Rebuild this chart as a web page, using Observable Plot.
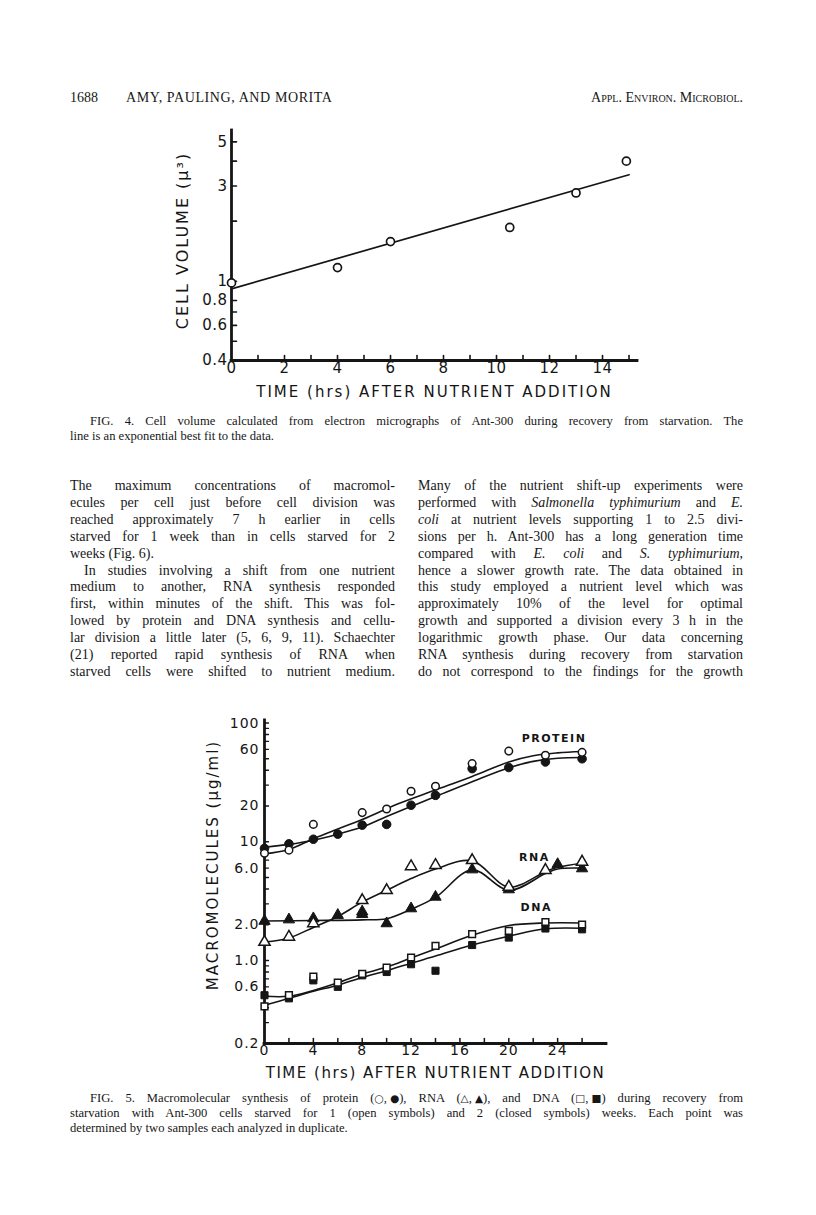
<!DOCTYPE html>
<html><head><meta charset="utf-8">
<script src="https://cdn.jsdelivr.net/npm/d3@7"></script>
<script src="https://cdn.jsdelivr.net/npm/@observablehq/plot@0.6"></script>
<style>
html,body{margin:0;padding:0;background:#fff;}
body{width:816px;height:1215px;position:relative;overflow:hidden;font-family:"Liberation Serif","Times New Roman",serif;color:#171717;}
.abs{position:absolute;white-space:nowrap;}
.col{position:absolute;width:325px;font-size:14px;line-height:16.9px;}
.col div{text-align:justify;text-align-last:justify;text-justify:inter-word;}
.col div.end{text-align-last:left;}
.cap{position:absolute;left:70px;width:673px;font-size:12.6px;line-height:15px;}
.cap div{text-align:justify;text-align-last:justify;text-justify:inter-word;}
.cap div.end{text-align-last:left;}
.cap div.ind{padding-left:20px;}
.col div.ind{text-indent:14px;}
.grp{display:inline-block;text-align:left;}
.sym{font-family:"DejaVu Sans",sans-serif;font-size:10.5px;}
#fig4,#fig5{position:absolute;}
</style>
</head><body>
<div class="abs" style="left:70px;top:90px;font-size:14px;line-height:16px;">1688</div>
<div class="abs" style="left:126px;top:90px;font-size:14px;line-height:16px;letter-spacing:0.6px;">AMY, PAULING, AND MORITA</div>
<div class="abs" style="right:73px;top:90px;font-size:14px;line-height:16px;font-variant:small-caps;">Appl. Environ. Microbiol.</div>

<div id="fig4" style="left:140px;top:120px;"></div>

<div class="cap" style="top:414px;">
<div class="ind">FIG. 4. Cell volume calculated from electron micrographs of Ant-300 during recovery from starvation. The</div>
<div class="end">line is an exponential best fit to the data.</div>
</div>

<div class="col" style="left:70px;top:478px;">
<div>The maximum concentrations of macromol-</div>
<div>ecules per cell just before cell division was</div>
<div>reached approximately 7 h earlier in cells</div>
<div>starved for 1 week than in cells starved for 2</div>
<div class="end">weeks (Fig. 6).</div>
<div class="ind">In studies involving a shift from one nutrient</div>
<div>medium to another, RNA synthesis responded</div>
<div>first, within minutes of the shift. This was fol-</div>
<div>lowed by protein and DNA synthesis and cellu-</div>
<div>lar division a little later (5, 6, 9, 11). Schaechter</div>
<div>(21) reported rapid synthesis of RNA when</div>
<div>starved cells were shifted to nutrient medium.</div>
</div>

<div class="col" style="left:418px;top:478px;">
<div>Many of the nutrient shift-up experiments were</div>
<div>performed with <i>Salmonella typhimurium</i> and <i>E.</i></div>
<div><i>coli</i> at nutrient levels supporting 1 to 2.5 divi-</div>
<div>sions per h. Ant-300 has a long generation time</div>
<div>compared with <i>E. coli</i> and <i>S. typhimurium</i>,</div>
<div>hence a slower growth rate. The data obtained in</div>
<div>this study employed a nutrient level which was</div>
<div>approximately 10% of the level for optimal</div>
<div>growth and supported a division every 3 h in the</div>
<div>logarithmic growth phase. Our data concerning</div>
<div>RNA synthesis during recovery from starvation</div>
<div>do not correspond to the findings for the growth</div>
</div>

<div id="fig5" style="left:190px;top:710px;"></div>

<div class="cap" style="top:1091px;">
<div class="ind">FIG. 5. Macromolecular synthesis of protein <span class="grp">(<span class="sym">○</span>, <span class="sym">●</span>),</span> RNA <span class="grp">(<span class="sym">△</span>, <span class="sym">▲</span>),</span> and DNA <span class="grp">(<span class="sym">□</span>, <span class="sym">■</span>)</span> during recovery from</div>
<div>starvation with Ant-300 cells starved for 1 (open symbols) and 2 (closed symbols) weeks. Each point was</div>
<div class="end">determined by two samples each analyzed in duplicate.</div>
</div>

<script>
// ---------- Figure 4 data ----------
const volHours = [0, 4, 6, 10.5, 13, 14.9];
const volMicron3 = [0.98, 1.17, 1.58, 1.86, 2.77, 4.0];
const volFitHours = [0, 15];
const volFitMicron3 = [0.915, 3.42];
const volXTickLabels = [0, 2, 4, 6, 8, 10, 12, 14];
const volXTickMarks = [1, 2, 3, 4, 5, 6, 7, 8, 9, 10, 11, 12, 13, 14, 15];
const volYTickLabels = [0.4, 0.6, 0.8, 1, 3, 5];
const volYTickText = ["0.4", "0.6", "0.8", "1", "3", "5"];
const volYTickMarks = [0.5, 0.6, 0.7, 0.8, 1, 2, 3, 4, 5];

// ---------- Figure 5 data (measured points) ----------
const proteinOpenHours = [0, 2, 4, 8, 10, 12, 14, 17, 20, 23, 26];
const proteinOpenUgMl = [8.0, 8.5, 14.0, 17.6, 18.9, 26.6, 29.3, 45.5, 58.0, 53.5, 56.6];
const proteinClosedHours = [0, 2, 4, 6, 8, 10, 12, 14, 17, 20, 23, 26];
const proteinClosedUgMl = [8.8, 9.6, 10.5, 11.6, 13.8, 14.0, 20.3, 24.6, 41.3, 42.2, 47.0, 50.0];
const rnaOpenHours = [0, 2, 4, 8, 10, 12, 14, 17, 20, 23, 26];
const rnaOpenUgMl = [1.43, 1.58, 2.05, 3.21, 3.9, 6.2, 6.35, 6.98, 4.16, 5.77, 6.77];
const rnaClosedHours = [0, 2, 4, 6, 8, 8, 10, 12, 14, 17, 20, 24, 26];
const rnaClosedUgMl = [2.15, 2.21, 2.26, 2.41, 2.45, 2.58, 2.05, 2.74, 3.43, 5.83, 3.96, 6.46, 5.95];
const dnaOpenHours = [0, 2, 4, 6, 8, 10, 12, 14, 17, 20, 23, 26];
const dnaOpenUgMl = [0.41, 0.51, 0.73, 0.65, 0.77, 0.87, 1.06, 1.33, 1.67, 1.78, 2.11, 2.01];
const dnaClosedHours = [0, 2, 4, 6, 8, 10, 12, 14, 17, 20, 23, 26];
const dnaClosedUgMl = [0.51, 0.48, 0.68, 0.60, 0.75, 0.80, 0.93, 0.82, 1.35, 1.56, 1.86, 1.83];

// ---------- Figure 5 hand-drawn curves ----------
const proteinOpenCurveHours = [0, 2, 4, 6, 8, 11, 14, 17, 20, 22, 24, 26];
const proteinOpenCurveUgMl = [7.9, 8.6, 10.6, 12.8, 15.4, 21, 27.3, 35.5, 47, 53, 56, 57.5];
const proteinClosedCurveHours = [0, 2, 4, 6, 8, 10, 12, 14, 17, 20, 22, 24, 26];
const proteinClosedCurveUgMl = [9.0, 9.5, 10.3, 11.6, 13.3, 16.3, 19.8, 24, 32, 42, 47.5, 50.5, 51.2];
const rnaOpenCurveHours = [0, 2, 4, 6, 8, 10, 12, 14, 17, 20, 23, 24, 26];
const rnaOpenCurveUgMl = [1.43, 1.55, 1.9, 2.35, 3.1, 3.9, 4.9, 5.9, 6.9, 4.15, 5.6, 6.1, 6.6];
const rnaClosedCurveHours = [0, 4, 8, 10, 12, 14, 17, 20, 23, 24, 26];
const rnaClosedCurveUgMl = [2.15, 2.17, 2.2, 2.25, 2.7, 3.4, 5.8, 3.9, 5.4, 5.9, 6.0];
const dnaOpenCurveHours = [0, 2, 4, 6, 8, 10, 12, 14, 17, 20, 23, 26];
const dnaOpenCurveUgMl = [0.5, 0.5, 0.56, 0.65, 0.77, 0.88, 1.05, 1.25, 1.63, 1.97, 2.07, 2.07];
const dnaClosedCurveHours = [0, 2, 4, 6, 8, 10, 12, 14, 17, 20, 23, 26];
const dnaClosedCurveUgMl = [0.42, 0.48, 0.55, 0.62, 0.72, 0.82, 0.95, 1.09, 1.35, 1.6, 1.85, 1.87];

const seriesLabels = ["PROTEIN", "RNA", "DNA"];
const seriesLabelHours = [23.7, 22.1, 22.25];
const seriesLabelUgMl = [74, 7.4, 2.8];

const macroXTickLabels = [0, 4, 8, 12, 16, 20, 24];
const macroXTickMarks = [2, 4, 6, 8, 10, 12, 14, 16, 18, 20, 22, 24, 26];
const macroYTickLabels = [0.2, 0.6, 1, 2, 6, 10, 20, 60, 100];
const macroYTickText = ["0.2", "0.6", "1.0", "2.0", "6.0", "10", "20", "60", "100"];
const macroYTickMarks = [0.3, 0.4, 0.5, 0.6, 0.7, 0.8, 0.9, 1, 2, 3, 4, 5, 6, 7, 8, 9, 10, 20, 30, 40, 50, 60, 70, 80, 90, 100];

// ---------- helpers ----------
const zip = (xs, ys) => xs.map((x, i) => ({x, y: ys[i]}));
const ink = "#151515";
const tickUp = {draw(ctx, l) { ctx.moveTo(0, 0); ctx.lineTo(0, -l); }};
const tickRight = {draw(ctx, l) { ctx.moveTo(0, 0); ctx.lineTo(l, 0); }};
function spacing(svg, map) {
  d3.select(svg).selectAll("text").each(function() {
    const t = this.textContent;
    if (map[t] != null) this.setAttribute("letter-spacing", map[t]);
  });
}

// ---------- Figure 4 ----------
const fig4 = Plot.plot({
  width: 520, height: 300,
  marginLeft: 91, marginTop: 10, marginBottom: 60, marginRight: 23,
  style: {fontFamily: "'DejaVu Sans', sans-serif", fontSize: "15px", color: ink, background: "transparent", letterSpacing: "0.5px"},
  x: {domain: [0, 15.32], axis: null},
  y: {type: "log", domain: [0.4, 5.7], axis: null},
  marks: [
    Plot.text(volXTickLabels, {x: d => d, frameAnchor: "bottom", text: d => String(d), lineAnchor: "top", dy: 2, fontSize: 15, fill: ink}),
    Plot.text(volYTickLabels, {y: d => d, frameAnchor: "left", text: (d, i) => volYTickText[i], textAnchor: "end", dx: -4, fontSize: 15, fill: ink}),
    Plot.vector(volXTickMarks, {x: d => d, frameAnchor: "bottom", length: 5, anchor: "start", shape: tickUp, stroke: ink, strokeWidth: 1.6}),
    Plot.vector(volYTickMarks, {y: d => d, frameAnchor: "left", length: 5, anchor: "start", shape: tickRight, stroke: ink, strokeWidth: 1.6}),
    Plot.ruleX([0], {stroke: ink, strokeWidth: 2.8, strokeLinecap: "square"}),
    Plot.ruleY([0.4], {stroke: ink, strokeWidth: 2.8, strokeLinecap: "square"}),
    Plot.line(zip(volFitHours, volFitMicron3), {x: "x", y: "y", stroke: ink, strokeWidth: 1.7}),
    Plot.dot(zip(volHours, volMicron3), {x: "x", y: "y", r: 4, stroke: ink, strokeWidth: 1.7, fill: "white"}),
    Plot.text(["CELL VOLUME (μ³)"], {text: d => d, frameAnchor: "left", textAnchor: "middle", rotate: -90, dx: -49, dy: -5, fontSize: 16, fill: ink}),
    Plot.text(["TIME (hrs) AFTER NUTRIENT ADDITION"], {text: d => d, frameAnchor: "bottom", textAnchor: "middle", dy: 36, fontSize: 15, fill: ink})
  ]
});
spacing(fig4, {"CELL VOLUME (μ³)": "2px", "TIME (hrs) AFTER NUTRIENT ADDITION": "2px"});
document.getElementById("fig4").appendChild(fig4);

// ---------- Figure 5 ----------
const curve = "catmull-rom";
const openStyle = {stroke: ink, strokeWidth: 1.5, fill: "white"};
const closedStyle = {stroke: ink, strokeWidth: 1, fill: ink};
const fig5 = Plot.plot({
  width: 440, height: 380,
  marginLeft: 74, marginTop: 10, marginBottom: 47, marginRight: 24,
  style: {fontFamily: "'DejaVu Sans', sans-serif", fontSize: "14px", color: ink, background: "transparent", letterSpacing: "1px"},
  x: {domain: [0, 28], axis: null},
  y: {type: "log", domain: [0.2, 105], axis: null},
  marks: [
    Plot.text(macroXTickLabels, {x: d => d, frameAnchor: "bottom", text: d => String(d), lineAnchor: "top", dy: 2, fontSize: 14, fill: ink}),
    Plot.text(macroYTickLabels, {y: d => d, frameAnchor: "left", text: (d, i) => macroYTickText[i], textAnchor: "end", dx: -5, fontSize: 14, fill: ink}),
    Plot.vector(macroXTickMarks, {x: d => d, frameAnchor: "bottom", length: 5, anchor: "start", shape: tickUp, stroke: ink, strokeWidth: 1.5}),
    Plot.vector(macroYTickMarks, {y: d => d, frameAnchor: "left", length: 4, anchor: "start", shape: tickRight, stroke: ink, strokeWidth: 1.3}),
    Plot.ruleX([0], {stroke: ink, strokeWidth: 2.8, strokeLinecap: "square"}),
    Plot.ruleY([0.2], {stroke: ink, strokeWidth: 2.8, strokeLinecap: "square"}),
    Plot.line(zip(proteinOpenCurveHours, proteinOpenCurveUgMl), {x: "x", y: "y", curve, stroke: ink, strokeWidth: 1.6}),
    Plot.line(zip(proteinClosedCurveHours, proteinClosedCurveUgMl), {x: "x", y: "y", curve, stroke: ink, strokeWidth: 1.6}),
    Plot.line(zip(rnaOpenCurveHours, rnaOpenCurveUgMl), {x: "x", y: "y", curve, stroke: ink, strokeWidth: 1.6}),
    Plot.line(zip(rnaClosedCurveHours, rnaClosedCurveUgMl), {x: "x", y: "y", curve, stroke: ink, strokeWidth: 1.6}),
    Plot.line(zip(dnaOpenCurveHours, dnaOpenCurveUgMl), {x: "x", y: "y", curve, stroke: ink, strokeWidth: 1.6}),
    Plot.line(zip(dnaClosedCurveHours, dnaClosedCurveUgMl), {x: "x", y: "y", curve, stroke: ink, strokeWidth: 1.6}),
    Plot.dot(zip(proteinClosedHours, proteinClosedUgMl), {x: "x", y: "y", symbol: "circle", r: 4.3, ...closedStyle}),
    Plot.dot(zip(proteinOpenHours, proteinOpenUgMl), {x: "x", y: "y", symbol: "circle", r: 3.8, ...openStyle}),
    Plot.dot(zip(rnaClosedHours, rnaClosedUgMl), {x: "x", y: "y", symbol: "triangle", r: 4.2, ...closedStyle}),
    Plot.dot(zip(rnaOpenHours, rnaOpenUgMl), {x: "x", y: "y", symbol: "triangle", r: 4.2, ...openStyle}),
    Plot.dot(zip(dnaClosedHours, dnaClosedUgMl), {x: "x", y: "y", symbol: "square", r: 4.0, ...closedStyle}),
    Plot.dot(zip(dnaOpenHours, dnaOpenUgMl), {x: "x", y: "y", symbol: "square", r: 3.8, ...openStyle}),
    Plot.text(seriesLabels.map((s, i) => ({s, x: seriesLabelHours[i], y: seriesLabelUgMl[i]})), {x: "x", y: "y", text: "s", fontSize: 11, fontWeight: "bold", fill: ink}),
    Plot.text(["MACROMOLECULES (μg/ml)"], {text: d => d, frameAnchor: "left", textAnchor: "middle", rotate: -90, dx: -51, dy: -17, fontSize: 15, fill: ink}),
    Plot.text(["TIME (hrs) AFTER NUTRIENT ADDITION"], {text: d => d, frameAnchor: "bottom", textAnchor: "middle", dy: 34, fontSize: 15, fill: ink})
  ]
});
spacing(fig5, {"MACROMOLECULES (μg/ml)": "2px", "TIME (hrs) AFTER NUTRIENT ADDITION": "1.5px", "PROTEIN": "1.5px", "RNA": "1.5px", "DNA": "1.5px"});
document.getElementById("fig5").appendChild(fig5);
</script>
</body></html>
